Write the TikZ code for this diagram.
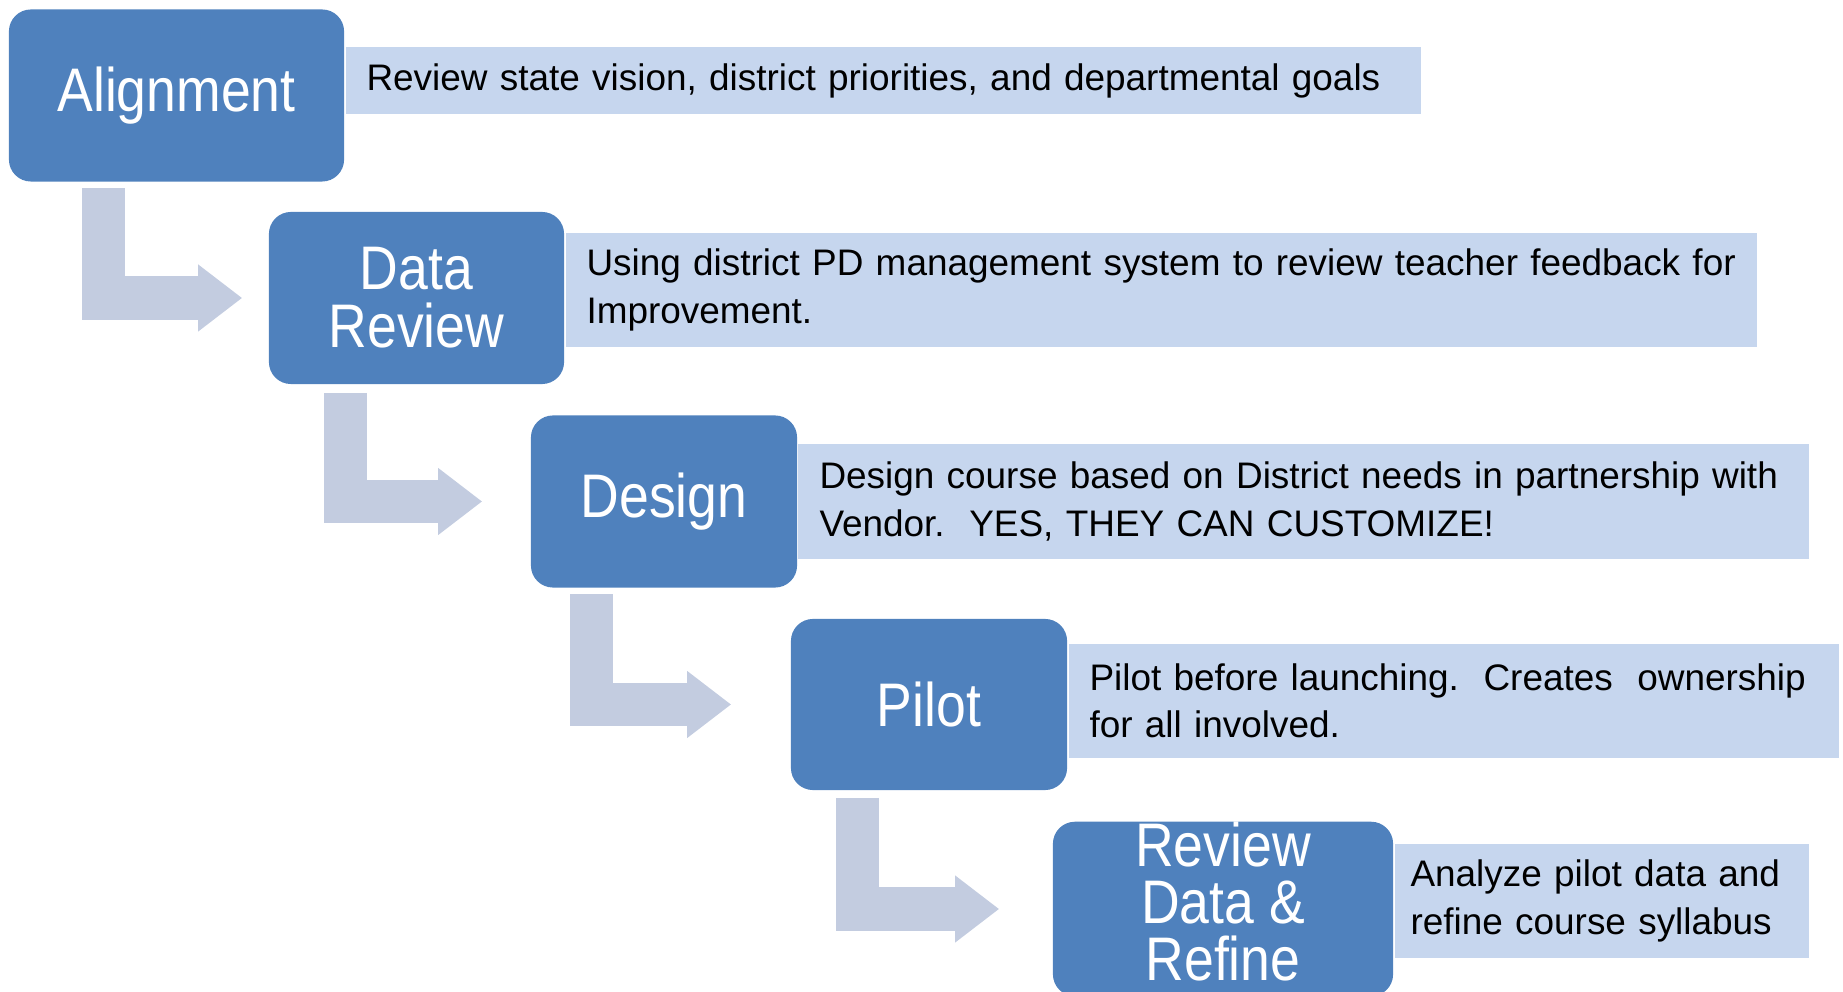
\documentclass[tikz,border=0pt]{standalone}
\usepackage{fontspec}
\setmainfont{Liberation Sans}
\newfontfamily\stagefont[FakeStretch=0.87]{Liberation Sans}
\usetikzlibrary{positioning,arrows.meta}
\definecolor{stageBlue}{HTML}{4F81BD}
\definecolor{noteBlue}{HTML}{C6D6EE}
\definecolor{flowGray}{HTML}{C3CCE0}
\tikzset{
  stage/.style={rectangle, rounded corners=2.2mm, fill=stageBlue, text=white, inner sep=0pt,
    align=center, minimum height=1.72cm, font={\stagefont\fontsize{17.5}{16.5}\selectfont}},
  note/.style={rectangle, fill=noteBlue, anchor=west, inner xsep=0.21cm, inner ysep=0pt,
    align=left, minimum height=1.14cm, font={\fontsize{10.5}{13.4}\selectfont}},
%  noteShadow/.style={note, drop shadow},
  flowArrow/.style={draw=flowGray, line width=0.43cm, -{Triangle[length=0.44cm, width=0.64cm]}}
}
\begin{document}
\begin{tikzpicture}[x=0.01cm, y=-0.01cm]
  \useasboundingbox (0,0) rectangle (1843,992);
  % stages
  \node [stage, minimum width=3.35cm] (alignment) at (176.5,95.5) {Alignment};
  \node [stage, minimum width=2.95cm] (dataReview) at (416.5,298) {Data\\Review};
  \node [stage, minimum width=2.66cm] (design) at (664,501.5) {Design};
  \node [stage, minimum width=2.76cm, minimum height=1.71cm] (pilot) at (929,704.5) {Pilot};
  \node [stage, minimum width=3.40cm, text depth=0.16cm,
    font={\stagefont\fontsize{17.5}{16.2}\selectfont}] (reviewRefine) at (1223,909) {Review\\Data \&\\Refine};
  % notes
  \node [note, text width=10.33cm, minimum height=0.67cm] (alignmentNote) at ([yshift=0.15cm]alignment.east)
    {Review state vision, district priorities, and departmental goals};
  \node [note, text width=11.49cm] (dataReviewNote) at ([yshift=0.08cm]dataReview.east)
    {Using district PD management system to review teacher feedback for\\Improvement.};
  \node [note, text width=9.68cm] (designNote) at (design.east)
    {Design course based on District needs in partnership with\\Vendor.\ \ YES, THEY CAN CUSTOMIZE!};
  \node [note, text width=7.28cm] (pilotNote) at ([yshift=0.035cm]pilot.east)
    {Pilot before launching.\ \ Creates\ \ ownership\\for all involved.};
  \node [note, text width=3.82cm, inner xsep=0.16cm] (reviewRefineNote) at ([yshift=0.08cm]reviewRefine.east)
    {Analyze pilot data and\\refine course syllabus};
  % bent arrows
  \draw [flowArrow] ([xshift=0.95cm, yshift=-0.06cm]alignment.south west) |- ([xshift=-0.26cm]dataReview.west);
  \draw [flowArrow] ([xshift=0.775cm, yshift=-0.08cm]dataReview.south west) |- ([xshift=-0.48cm]design.west);
  \draw [flowArrow] ([xshift=0.61cm, yshift=-0.06cm]design.south west) |- ([xshift=-0.59cm]pilot.west);
  \draw [flowArrow] ([xshift=0.675cm, yshift=-0.07cm]pilot.south west) |- ([xshift=-0.53cm]reviewRefine.west);
\end{tikzpicture}
\end{document}
